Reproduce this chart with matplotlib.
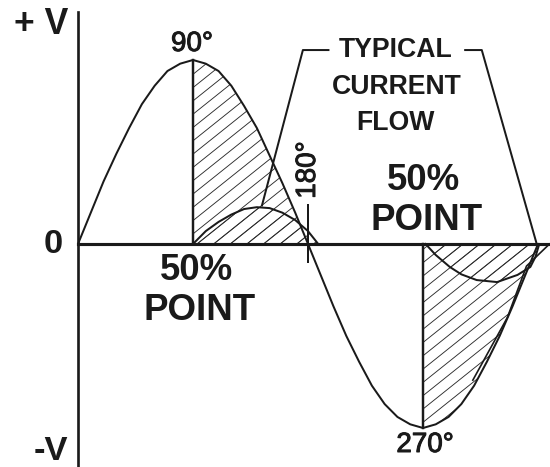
import matplotlib
matplotlib.use("Agg")
import matplotlib.pyplot as plt
import matplotlib.patheffects as pe
from matplotlib.collections import LineCollection

plt.rcParams['font.family'] = ['Liberation Sans', 'DejaVu Sans']

# voltage as fraction of peak, read every 10 degrees from 0 to 360
deg = list(range(0, 370, 10))
volts = [0, .17, .34, .49, .63, .76, .86, .94, .98, 1.0, .98, .94, .86, .75, .63, .48, .33, .17, 0,
         -.17, -.34, -.5, -.64, -.77, -.87, -.94, -.98, -1.0,
         -.98, -.94, -.87, -.77, -.64, -.5, -.34, -.17, 0]

# current pulses (fraction of voltage peak)
cur1_deg = [90, 100, 110, 120, 130, 140, 150, 160, 170, 180, 188]
cur1 = [0, .07, .12, .16, .19, .2, .195, .17, .13, .07, 0]
cur2_deg = [272, 280, 291, 300, 312, 328, 344, 354, 358, 361]
cur2 = [0, -.06, -.125, -.165, -.196, -.207, -.168, -.125, -.07, 0]

# extra edge drawn inside the lower hatched area
edge_deg = [309, 336, 351, 369]
edge_v = [-.74, -.40, -.12, 0]

# "typical current flow" bracket lines
left_deg = [144, 176, 196]
left_v = [.21, 1.054, 1.054]
right_deg = [303, 316, 359]
right_v = [1.054, 1.054, 0]

W, H = 550, 467
fig = plt.figure(figsize=(W / 80, H / 80), dpi=80)
ax = fig.add_axes([0, 0, 1, 1])
ax.set_xlim(-61.04, 369.39)
ax.set_ylim(-1.212, 1.326)
ax.axis('off')

k = '#1a1a1a'

# hand-style hatching: thin diagonals clipped to each shaded area
slope, gap = 0.8, 13.3
segs = []
c = -slope * W
while c < H:
    segs.append([(0, c / H), (1, (c + slope * W) / H)])
    c += gap

regions = [
    ax.fill_between(deg[9:19], volts[9:19], 0, facecolor='none', lw=0),
    ax.fill_between(cur1_deg, cur1, 0, facecolor='none', lw=0),
    ax.fill_between(deg[27:], volts[27:], 0, facecolor='none', lw=0),
    ax.fill_between(cur2_deg, cur2, 0, facecolor='none', lw=0),
]
for reg in regions:
    lc = LineCollection(segs, colors='#2a2a2a', linewidths=0.8, transform=fig.transFigure)
    lc.set_clip_path(reg.get_paths()[0], ax.transData)
    ax.add_collection(lc)

ax.plot(deg, volts, color=k, lw=1.8, solid_capstyle='round')
ax.plot(cur1_deg, cur1, color=k, lw=1.8)
ax.plot(cur2_deg, cur2, color=k, lw=1.8)
ax.plot(edge_deg, edge_v, color=k, lw=1.5)
ax.plot(left_deg, left_v, color=k, lw=1.8)
ax.plot(right_deg, right_v, color=k, lw=1.8)

# axes and markers
ax.plot([0, 0], [1.26, -1.212], color=k, lw=2.4)
ax.plot([0, 369.4], [0, 0], color=k, lw=2.8)
ax.plot([90, 90], [0, 1], color=k, lw=2.2)
ax.plot([270, 270], [0, -1], color=k, lw=2.2)
ax.plot([180, 180], [.21, -.098], color=k, lw=1.8)

thick = [pe.withStroke(linewidth=0.9, foreground=k)]


def label(x, y, s, size, weight='bold', rot=0, effects=None):
    fig.text(x / W, 1 - y / H, s, fontsize=size, fontweight=weight, color=k,
             ha='center', va='center', rotation=rot, path_effects=effects)


label(41, 25, '+ V', 32)
label(53, 245, '0', 31)
label(51, 452, '-V', 31)
label(192, 44, '90°', 25, 'normal', effects=thick)
label(308, 170, '180°', 25, 'normal', rot=90, effects=thick)
label(425, 445, '270°', 25, 'normal', effects=thick)
label(396, 50, 'TYPICAL', 24)
label(397, 87, 'CURRENT', 24)
label(395, 123, 'FLOW', 24)
label(424, 180, '50%', 33)
label(427, 221, 'POINT', 33)
label(197, 270, '50%', 33)
label(200, 310, 'POINT', 33)

fig.savefig('out.png', dpi=80)
